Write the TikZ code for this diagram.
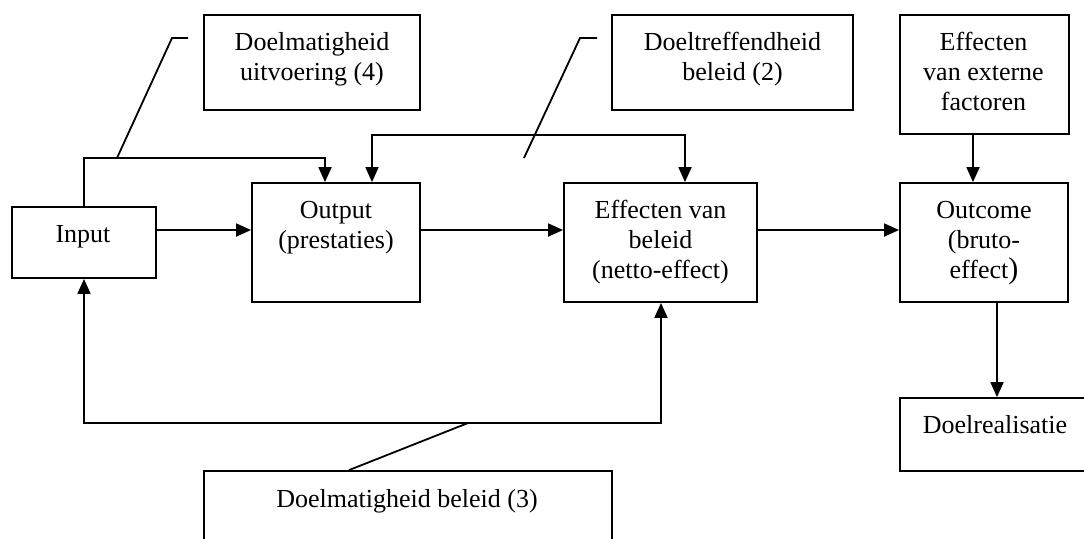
\documentclass[tikz,border=0pt]{standalone}
\usepackage{fontspec}
\setmainfont{Liberation Serif}
\usetikzlibrary{arrows.meta,calc}
\begin{document}
\begin{tikzpicture}[x=0.5pt,y=-0.5pt,
  line width=0.9pt,
  box/.style={draw, line width=0.9pt, inner sep=0pt, rectangle},
  txt/.style={inner sep=0pt, align=center, anchor=north, font=\fontsize{13pt}{15pt}\selectfont},
  arr/.style={-{Triangle[length=7.5pt,width=6.5pt]}},
  arrboth/.style={{Triangle[length=7.5pt,width=6.5pt]}-{Triangle[length=7.5pt,width=6.5pt]}}]
\useasboundingbox (0,0) rectangle (1084,538);
\begin{scope}
\clip (0,0) rectangle (1084,538);
% boxes
\node[box, minimum width=108pt, minimum height=47.5pt] (du) at (312,62.5) {};
\node[box, minimum width=120.5pt, minimum height=47.5pt] (dt) at (732.5,62.5) {};
\node[box, minimum width=84.5pt, minimum height=59.5pt] (ef) at (984.5,74.5) {};
\node[box, minimum width=72pt, minimum height=35.5pt] (in) at (84,242.5) {};
\node[box, minimum width=84pt, minimum height=59.5pt] (out) at (336,242.5) {};
\node[box, minimum width=96.5pt, minimum height=59.5pt] (eff) at (660.5,242.5) {};
\node[box, minimum width=84pt, minimum height=59.5pt] (oc) at (984,242.5) {};
\node[box, minimum width=95pt, minimum height=36.5pt] (dr) at (995,434.5) {};
\node[box, minimum width=204pt, minimum height=44.5pt] (db) at (408,515.5) {};
\end{scope}
% texts
\node[txt] (dut) at ($(du.north)+(0,14)$) {\strut Doelmatigheid\\uitvoering (4)};
\node[txt] (dtt) at ($(dt.north)+(0,14)$) {\strut Doeltreffendheid\\beleid (2)};
\node[txt] (eft) at ($(ef.north)+(-1,14)$) {\strut Effecten\\van externe\\factoren};
\node[txt] (int) at ($(in.north)+(-1,14)$) {\strut Input};
\node[txt] (outt) at ($(out.north)+(0,14)$) {\strut Output\\(prestaties)};
\node[txt] (efft) at ($(eff.north)+(0,14)$) {\strut Effecten van\\beleid\\(netto-effect)};
\node[txt] (oct) at ($(oc.north)+(0,14)$) {\strut Outcome\\(bruto-\\effect{\fontsize{15pt}{15pt}\selectfont )}};
\node[txt] (drt) at ($(dr.north)+(0,14)$) {\strut Doelrealisatie};
\node[txt] (dbt) at ($(db.north)+(-1,15)$) {\strut Doelmatigheid beleid (3)};
% coordinates
\coordinate (ya) at (0,230);
\coordinate (c1) at (325,158);
\coordinate (c0) at (84,158);
\coordinate (l4a) at (117,158);
\coordinate (l4b) at (172,38);
\coordinate (l4c) at (188,38);
\coordinate (fb1) at (372,135);
\coordinate (fb2) at (685,135);
\coordinate (l2a) at (524,158);
\coordinate (l2b) at (580,38);
\coordinate (l2c) at (597,38);
\coordinate (xe) at (973,0);
\coordinate (xd) at (997,0);
\coordinate (b1) at (84,423);
\coordinate (b2) at (661,423);
\coordinate (l3a) at (468,423);
\coordinate (l3b) at (349,0);
% connectors
\draw[arr] (in.east |- ya) -- (out.west |- ya);
\draw[arr] (out.east |- ya) -- (eff.west |- ya);
\draw[arr] (eff.east |- ya) -- (oc.west |- ya);
\draw[arr] (in.north) -- (c0) -- (c1) -- (c1 |- out.north);
\draw (l4a) -- (l4b) -- (l4c);
\draw[arrboth] (fb1 |- out.north) -- (fb1) -- (fb2) -- (fb2 |- eff.north);
\draw (l2a) -- (l2b) -- (l2c);
\draw[arr] (ef.south -| xe) -- (oc.north -| xe);
\draw[arr] (oc.south -| xd) -- (dr.north -| xd);
\draw[arrboth] (in.south) -- (b1) -- (b2) -- (b2 |- eff.south);
\draw (l3a) -- (db.north -| l3b);
\end{tikzpicture}
\end{document}
